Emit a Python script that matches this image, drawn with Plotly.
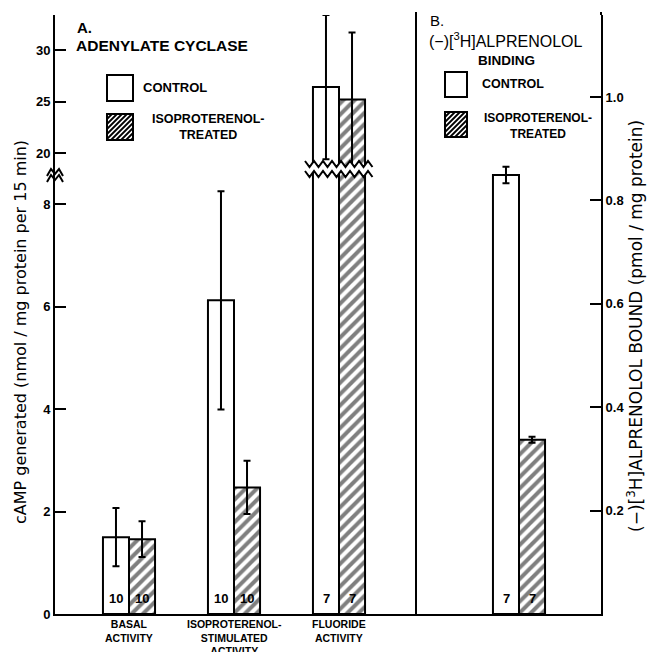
import plotly.graph_objects as go

# ---------------- data ----------------
categories_a = ["BASAL<br>ACTIVITY", "ISOPROTERENOL-<br>STIMULATED<br>ACTIVITY", "FLUORIDE<br>ACTIVITY"]
control_a = [1.50, 6.12, 26.4]
control_a_err = [0.57, 2.13, 7.0]
treated_a = [1.46, 2.47, 25.2]
treated_a_err = [0.35, 0.52, 6.5]
n_control_a = ["10", "10", "7"]
n_treated_a = ["10", "10", "7"]

categories_b = ["BINDING"]
control_b = [0.849]
control_b_err = [0.016]
treated_b = [0.337]
treated_b_err = [0.006]
n_control_b = ["7"]
n_treated_b = ["7"]

left_ticks_low = [0, 2, 4, 6, 8]
left_ticks_high = [20, 25, 30]
right_ticks = [0.2, 0.4, 0.6, 0.8, 1.0]
right_ticklabels = ["0.2", "0.4", "0.6", "0.8", "1.0"]

# ---------------- geometry helpers (pixels -> paper) ----------------
W = H = 652
ML, MR, MT, MB = 55, 51, 15, 38
PW = W - ML - MR
PH = H - MT - MB
def px(x):
    return (x - ML) / PW
def py(y):
    return (H - MB - y) / PH

BREAK_Y = 170
split = py(BREAK_Y)
div_x = px(416)

FONT = "Liberation Sans"
FONT_T = "DejaVu Sans"
BW = 0.248  # bar width in category units

fig = go.Figure()

pattern = dict(shape="/", fgcolor="black", bgcolor="white", size=8, solidity=0.5)
ebar = dict(type="data", thickness=2, width=3.5, color="black")

# lower panel A (basal, isoproterenol) with errors, fluoride without
low_cats = categories_a[:2]
fig.add_trace(go.Bar(x=low_cats, y=control_a[:2], width=BW, offset=-BW,
                     marker=dict(color="white", line=dict(color="black", width=2)),
                     error_y=dict(array=control_a_err[:2], **ebar), xaxis="x", yaxis="y"))
fig.add_trace(go.Bar(x=low_cats, y=treated_a[:2], width=BW, offset=0,
                     marker=dict(color="white", line=dict(color="black", width=2), pattern=pattern),
                     error_y=dict(array=treated_a_err[:2], **ebar), xaxis="x", yaxis="y"))
fig.add_trace(go.Bar(x=categories_a[2:], y=control_a[2:], width=BW, offset=-BW,
                     marker=dict(color="white", line=dict(color="black", width=2)),
                     xaxis="x", yaxis="y"))
fig.add_trace(go.Bar(x=categories_a[2:], y=treated_a[2:], width=BW, offset=0,
                     marker=dict(color="white", line=dict(color="black", width=2), pattern=pattern),
                     xaxis="x", yaxis="y"))
# upper panel A (fluoride, broken axis)
fig.add_trace(go.Bar(x=categories_a[2:], y=control_a[2:], width=BW, offset=-BW,
                     marker=dict(color="white", line=dict(color="black", width=2)),
                     error_y=dict(array=control_a_err[2:], **ebar), xaxis="x2", yaxis="y2"))
fig.add_trace(go.Bar(x=categories_a[2:], y=treated_a[2:], width=BW, offset=0,
                     marker=dict(color="white", line=dict(color="black", width=2), pattern=pattern),
                     error_y=dict(array=treated_a_err[2:], **ebar), xaxis="x2", yaxis="y2"))
# panel B
fig.add_trace(go.Bar(x=categories_b, y=control_b, width=BW, offset=-BW,
                     marker=dict(color="white", line=dict(color="black", width=2)),
                     error_y=dict(array=control_b_err, **ebar), xaxis="x3", yaxis="y3"))
fig.add_trace(go.Bar(x=categories_b, y=treated_b, width=BW, offset=0,
                     marker=dict(color="white", line=dict(color="black", width=2), pattern=pattern),
                     error_y=dict(array=treated_b_err, **ebar), xaxis="x3", yaxis="y3"))

# ---------------- axes ----------------
unit_px = 105.0
xa_range = [-(129 - ML) / unit_px, (416 - 129) / unit_px]
xb_range = [-(519 - 416) / unit_px, (601 - 519) / unit_px]
low_top = (H - MB - BREAK_Y) / 51.25
hi_range = [20 - (BREAK_Y - 153) / 10.3, 20 + (153 - MT) / 10.3]
b_top = PH / 517.0

tickfont = dict(family=FONT, size=13, color="black", weight="bold")
common_x = dict(type="category", showgrid=False, zeroline=False, fixedrange=True, automargin=False)

fig.update_layout(
    width=W, height=H, margin=dict(l=ML, r=MR, t=MT, b=MB, autoexpand=False),
    paper_bgcolor="white", plot_bgcolor="rgba(0,0,0,0)",
    showlegend=False, barmode="overlay",
    font=dict(family=FONT, color="black"),
    xaxis=dict(domain=[0, div_x], anchor="y", range=xa_range, categoryarray=categories_a,
               categoryorder="array", showline=True, linecolor="black", linewidth=2,
               ticks="", showticklabels=False, **common_x),
    yaxis=dict(domain=[0, split], anchor="x", range=[0, low_top], tickvals=left_ticks_low,
               ticks="inside", ticklen=11, tickwidth=2, tickcolor="black", automargin=False,
               showline=True, linecolor="black", linewidth=2, showgrid=False, zeroline=False,
               tickfont=tickfont),
    xaxis2=dict(domain=[0, div_x], anchor="y2", range=xa_range, categoryarray=categories_a,
                categoryorder="array", showticklabels=False, showline=False, ticks="", **common_x),
    yaxis2=dict(domain=[split, 1], anchor="x2", range=hi_range, tickvals=left_ticks_high,
                ticks="inside", ticklen=11, tickwidth=2, tickcolor="black", automargin=False,
                showline=True, linecolor="black", linewidth=2, showgrid=False, zeroline=False,
                tickfont=tickfont),
    xaxis3=dict(domain=[div_x, 1], anchor="y3", range=xb_range, showline=True, linecolor="black",
                linewidth=2, showticklabels=False, ticks="", **common_x),
    yaxis3=dict(domain=[0, 1], anchor="x3", side="right", range=[0, b_top], tickvals=right_ticks,
                ticktext=right_ticklabels, ticks="inside", ticklen=11, tickwidth=2, tickcolor="black",
                showline=True, linecolor="black", linewidth=2, showgrid=False, zeroline=False,
                automargin=False, tickfont=tickfont),
)

shapes = []
# divider between panels
shapes.append(dict(type="line", xref="paper", yref="paper", x0=div_x, x1=div_x, y0=0, y1=py(12),
                   line=dict(color="black", width=2)))
# right axis extension to top
shapes.append(dict(type="line", xref="paper", yref="paper", x0=1, x1=1, y0=py(15), y1=py(12),
                   line=dict(color="black", width=2)))

# zig-zag break across the fluoride bars
def zig(x0, x1, yc, amp=3.0, period=9.0):
    pts = []
    x = x0
    k = 0
    while x <= x1 + 0.01:
        pts.append((x, yc + (amp if k % 2 else -amp)))
        x += period / 2
        k += 1
    return pts

top = zig(305, 373, BREAK_Y - 6)
bot = zig(305, 373, BREAK_Y + 4)
path = "M " + " L ".join(f"{px(x):.5f},{py(y):.5f}" for x, y in top)
path += " L " + " L ".join(f"{px(x):.5f},{py(y):.5f}" for x, y in reversed(bot)) + " Z"
shapes.append(dict(type="path", xref="paper", yref="paper", path=path,
                   fillcolor="white", line=dict(width=0)))
for pts in (top, bot):
    p = "M " + " L ".join(f"{px(x):.5f},{py(y):.5f}" for x, y in pts)
    shapes.append(dict(type="path", xref="paper", yref="paper", path=p,
                       line=dict(color="black", width=2)))

# axis break marks on left axis
for dy in (0, 6):
    pts = [(47, 176 + dy), (51, 169 + dy), (55, 174 + dy), (59, 169 + dy), (63, 176 + dy)]
    p = "M " + " L ".join(f"{px(x):.5f},{py(y):.5f}" for x, y in pts)
    shapes.append(dict(type="path", xref="paper", yref="paper", path=p,
                       line=dict(color="black", width=2)))

# legend boxes
def box(x0, y0, x1, y1, hatch):
    shapes.append(dict(type="rect", xref="paper", yref="paper", x0=px(x0), x1=px(x1),
                       y0=py(y1), y1=py(y0), fillcolor="white", line=dict(color="black", width=2)))
    if hatch:
        s = 5.0
        c = x0 + y0 + s
        while c < x1 + y1:
            xa = max(x0, c - y1)
            xb = min(x1, c - y0)
            if xb > xa:
                shapes.append(dict(type="line", xref="paper", yref="paper",
                                   x0=px(xa), y0=py(c - xa), x1=px(xb), y1=py(c - xb),
                                   line=dict(color="black", width=1.8)))
            c += s

box(107, 75, 133, 101, False)
box(107, 114, 133, 140, True)
box(445, 72, 467, 97, False)
box(445, 112, 467, 137, True)
fig.update_layout(shapes=shapes)

# ---------------- text ----------------
ann = []
def txt(x, y, t, size=12, bold=True, xanchor="left", align="left", angle=0, family=FONT):
    ann.append(dict(xref="paper", yref="paper", x=px(x), y=py(y), text=t, showarrow=False,
                    xanchor=xanchor, yanchor="middle", align=align, textangle=angle,
                    font=dict(family=family, size=size, color="black", weight="bold" if bold else "normal")))

txt(75, 27, "A.", 15)
txt(74, 45, "ADENYLATE CYCLASE", 15.5)
txt(141, 88, "CONTROL", 13)
txt(208, 127, "ISOPROTERENOL-<br>TREATED", 12.5, xanchor="center", align="center")

txt(428, 21, "B.", 15, bold=False)
txt(427, 40, "(−)[<sup>3</sup>H]ALPRENOLOL", 16, bold=False)
txt(476, 60, "BINDING", 13.5, bold=True)
txt(480, 84, "CONTROL", 12.5)
txt(538, 126, "ISOPROTERENOL-<br>TREATED", 12, xanchor="center", align="center")

txt(20, 332, "cAMP generated (nmol / mg protein per 15 min)", 16, bold=False,
    xanchor="center", angle=-90, family=FONT_T)
txt(635, 326, "(−)[<sup>3</sup>H]ALPRENOLOL BOUND (pmol / mg protein)", 17, bold=False,
    xanchor="center", angle=-90, family=FONT_T)

# category labels under panel A axis
for cat in categories_a:
    ann.append(dict(xref="x", yref="paper", x=cat, y=py(616), yanchor="top", text=cat,
                    showarrow=False, align="center",
                    font=dict(family=FONT, size=10.5, color="black", weight="bold")))

# n labels inside bars
for cat, nc, nt in zip(categories_a, n_control_a, n_treated_a):
    for lab, shift in ((nc, -13), (nt, 13)):
        ann.append(dict(xref="x", yref="y", x=cat, y=0.3, xshift=shift, text=lab, showarrow=False,
                        font=dict(family=FONT, size=13, color="black", weight="bold")))
for cat, nc, nt in zip(categories_b, n_control_b, n_treated_b):
    for lab, shift in ((nc, -13), (nt, 13)):
        ann.append(dict(xref="x3", yref="y3", x=cat, y=0.03, xshift=shift, text=lab, showarrow=False,
                        font=dict(family=FONT, size=13, color="black", weight="bold")))

fig.update_layout(annotations=ann)
fig.write_html("out.html")
